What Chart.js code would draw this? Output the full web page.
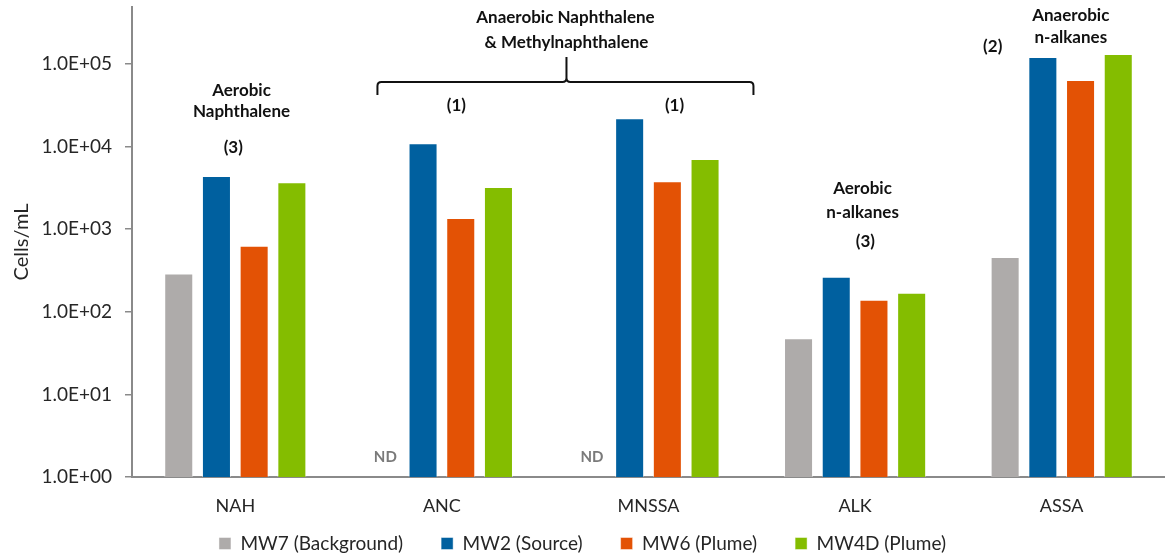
<!DOCTYPE html>
<html>
<head>
<meta charset="utf-8">
<script src="https://cdn.jsdelivr.net/npm/chart.js@4.4.1/dist/chart.umd.min.js"></script>
<style>
  html, body { margin: 0; padding: 0; background: #fff; }
  #wrap { width: 1165px; height: 556px; }
</style>
</head>
<body>
<div id="wrap"><canvas id="qpcr"></canvas></div>
<script>
// qPCR results, cells/mL (ND = not detected -> null)
var categories = ['NAH', 'ANC', 'MNSSA', 'ALK', 'ASSA'];
var mw7  = [290, null, null, 48, 460];
var mw2  = [4400, 11000, 22000, 265, 122000];
var mw6  = [630, 1370, 3800, 140, 64000];
var mw4d = [3700, 3250, 7100, 170, 132000];
var seriesNames = ['MW7 (Background)', 'MW2 (Source)', 'MW6 (Plume)', 'MW4D (Plume)'];
var yTicks = [1, 10, 100, 1000, 10000, 100000];
var yTickLabels = ['1.0E+00', '1.0E+01', '1.0E+02', '1.0E+03', '1.0E+04', '1.0E+05'];

var $grey = '#aeabaa',
    $blue = '#00609f',
    $orange = '#e35205',
    $green = '#84bd00',
    $axis = '#8a8a8a',
    $text = '#262626';

var fontFam = 'Lato, "Open Sans", sans-serif';

// annotation text, anchored to category index (x) and log10 value (y)
var notes = [
  { t: 'Aerobic', x: 0.03, y: 4.685 },
  { t: 'Naphthalene', x: 0.03, y: 4.419 },
  { t: '(3)', x: -0.01, y: 3.995 },
  { t: 'Anaerobic Naphthalene', x: 1.598, y: 5.557 },
  { t: '& Methylnaphthalene', x: 1.603, y: 5.266 },
  { t: '(1)', x: 1.07, y: 4.492 },
  { t: '(1)', x: 2.126, y: 4.492 },
  { t: 'Aerobic', x: 3.036, y: 3.487 },
  { t: 'n-alkanes', x: 3.036, y: 3.208 },
  { t: '(3)', x: 3.05, y: 2.845 },
  { t: 'Anaerobic', x: 4.044, y: 5.593 },
  { t: 'n-alkanes', x: 4.044, y: 5.315 },
  { t: '(2)', x: 3.666, y: 5.206 }
];

var notesPlugin = {
  id: 'notes',
  afterDraw: function (chart) {
    var ctx = chart.ctx, xs = chart.scales.x, ys = chart.scales.y;
    var px = function (i) { return xs.getPixelForValue(0) + i * (xs.getPixelForValue(1) - xs.getPixelForValue(0)); };
    var py = function (l) { return ys.getPixelForValue(Math.pow(10, l)); };
    ctx.save();
    ctx.fillStyle = '#111';
    ctx.font = 'bold 17px ' + fontFam;
    ctx.textAlign = 'center';
    ctx.textBaseline = 'middle';
    notes.forEach(function (n) { ctx.fillText(n.t, px(n.x), py(n.y)); });

    // ND markers where the background well had no detection
    var meta = chart.getDatasetMeta(0);
    ctx.fillStyle = '#7a7a7a';
    ctx.font = 'bold 15px ' + fontFam;
    mw7.forEach(function (v, i) {
      if (v === null) ctx.fillText('ND', meta.data[i].x, py(0.242));
    });

    // brace over ANC + MNSSA
    var l = px(0.688), r = px(2.508), m = px(1.603);
    var yEnd = py(4.625), yLine = py(4.782), yTip = py(5.085), rad = 4;
    ctx.strokeStyle = '#111';
    ctx.lineWidth = 2;
    ctx.beginPath();
    ctx.moveTo(l, yEnd);
    ctx.lineTo(l, yLine + rad);
    ctx.quadraticCurveTo(l, yLine, l + rad, yLine);
    ctx.lineTo(m - rad, yLine);
    ctx.quadraticCurveTo(m, yLine, m, yLine - rad);
    ctx.lineTo(m, yTip);
    ctx.moveTo(m, yLine - rad);
    ctx.quadraticCurveTo(m, yLine, m + rad, yLine);
    ctx.lineTo(r - rad, yLine);
    ctx.quadraticCurveTo(r, yLine, r, yLine + rad);
    ctx.lineTo(r, yEnd);
    ctx.stroke();
    ctx.restore();
  }
};

// legend: wide gaps between items but a short box, nudged up under the x labels
var legendFit = {
  id: 'legendFit',
  afterInit: function (chart) {
    var lg = chart.legend;
    var fit = lg.fit;
    lg.fit = function () {
      fit.call(lg);
      lg.height = 39;
    };
  },
  afterLayout: function (chart) {
    chart.legend.top -= 21;
  }
};

var barSet = function (label, data, color) {
  return {
    label: label,
    data: data,
    backgroundColor: color,
    borderColor: 'rgba(255,255,255,0.45)',
    borderWidth: 1,
    categoryPercentage: 0.73,
    barPercentage: 0.77
  };
};

var ctx = document.getElementById('qpcr');
var chart = new Chart(ctx, {
  type: 'bar',
  data: {
    labels: categories,
    datasets: [
      barSet(seriesNames[0], mw7, $grey),
      barSet(seriesNames[1], mw2, $blue),
      barSet(seriesNames[2], mw6, $orange),
      barSet(seriesNames[3], mw4d, $green)
    ]
  },
  options: {
    responsive: true,
    maintainAspectRatio: false,
    animation: false,
    layout: { padding: { top: 7, left: 0, right: 0, bottom: 0 } },
    scales: {
      x: {
        grid: { display: true, drawOnChartArea: false, drawTicks: false, color: 'rgba(0,0,0,0)' },
        border: { display: true, color: $axis, width: 2 },
        ticks: { color: $text, font: { family: fontFam, size: 18 }, padding: 18 },
        afterFit: function (s) { s.height = 40; }
      },
      y: {
        type: 'logarithmic',
        min: 1,
        max: 490000,
        grid: { display: true, drawOnChartArea: false, drawTicks: true, tickLength: 7, color: $axis, lineWidth: 1.5 },
        border: { display: true, color: $axis, width: 2 },
        title: { display: true, text: 'Cells/mL', color: $text, font: { family: fontFam, size: 20 }, padding: { top: 10, bottom: 0 } },
        ticks: {
          color: $text,
          font: { family: fontFam, size: 19 },
          padding: 13,
          callback: function (v) {
            var k = yTicks.indexOf(v);
            return k >= 0 ? yTickLabels[k] : '';
          }
        },
        afterBuildTicks: function (s) {
          s.ticks = yTicks.map(function (v) { return { value: v }; });
        },
        afterFit: function (s) { s.width = 132; s.paddingTop = 0; s.paddingBottom = 0; }
      }
    },
    plugins: {
      legend: {
        position: 'bottom',
        labels: {
          boxWidth: 12,
          boxHeight: 12,
          padding: 38,
          color: $text,
          font: { family: fontFam, size: 19 }
        }
      },
      tooltip: { enabled: false }
    }
  },
  plugins: [notesPlugin, legendFit]
});
</script>
</body>
</html>
